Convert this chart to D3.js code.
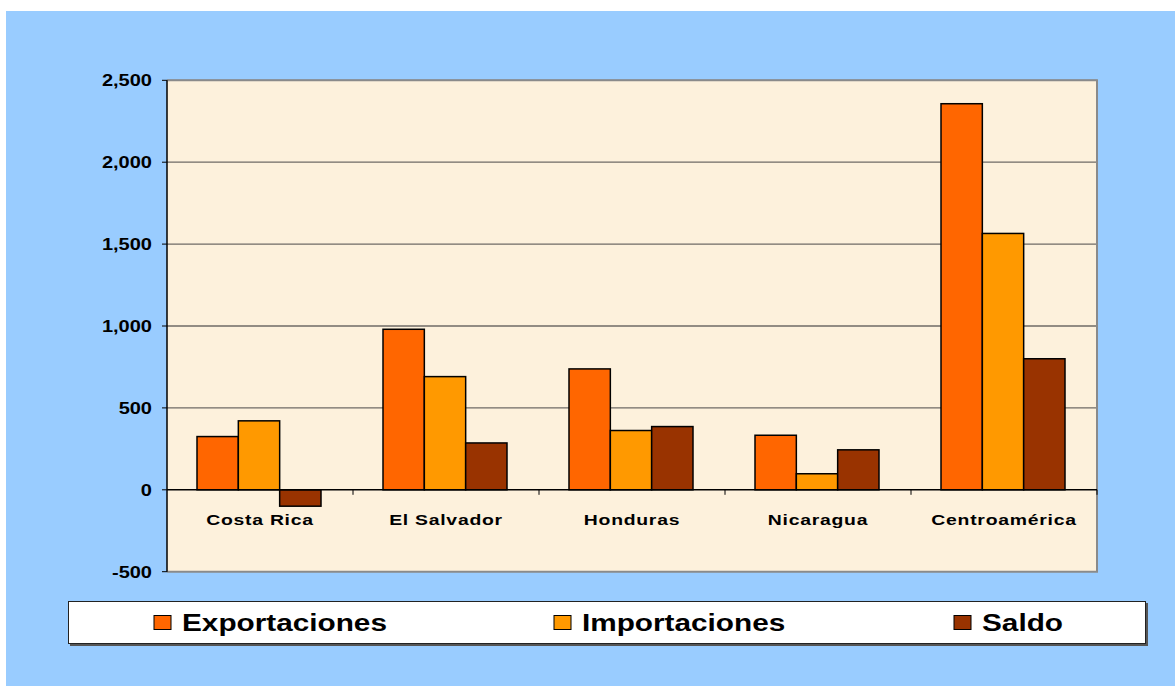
<!DOCTYPE html>
<html>
<head>
<meta charset="utf-8">
<script src="https://cdn.jsdelivr.net/npm/d3@7"></script>
<style>
body{margin:0;background:#fff}
svg{display:block}
text{font-family:"Liberation Sans",Arial,sans-serif;font-weight:bold;fill:#000}
</style>
</head>
<body>
<svg></svg>
<script>
var categories=["Costa Rica","El Salvador","Honduras","Nicaragua","Centroamérica"]
var seriesNames=["Exportaciones","Importaciones","Saldo"]
var exportaciones=[325,980,738,333,2357]
var importaciones=[421,691,362,98,1565]
var saldo=[-100,286,386,244,800]
var tickValues=[-500,0,500,1000,1500,2000,2500]
var colors=["#ff6600","#ff9900","#993300"]

var data=categories.map((c,i)=>({
  cat:c,
  vals:[exportaciones[i],importaciones[i],saldo[i]]
}))

var W=1175,H=686
var svg=d3.select("svg").attr("width",W).attr("height",H)
var stretch=1.25

// fondo azul
svg.append("rect").attr("x",6).attr("y",11).attr("width",W-6).attr("height",H-11).attr("fill","#99ccff")

var pLeft=167,pRight=1097,pTop=80.3,pBottom=571.7

var y=d3.scaleLinear().domain([-500,2500]).range([pBottom,pTop])
var x=d3.scaleBand().domain(categories).range([pLeft,pRight])
var xs=d3.scaleBand().domain(seriesNames).range([30,x.bandwidth()-32])

svg.append("rect").attr("x",pLeft).attr("y",pTop).attr("width",pRight-pLeft).attr("height",pBottom-pTop)
  .attr("fill","#fdf1dc")

// grid
svg.selectAll("line.grid").data(tickValues.filter(v=>v>0)).enter().append("line")
  .attr("x1",pLeft).attr("x2",pRight).attr("y1",d=>y(d)).attr("y2",d=>y(d))
  .attr("stroke","#6e6a66").attr("stroke-width",1.3)

// borde gris
svg.append("path")
  .attr("d",`M${pLeft},${pTop}H${pRight}V${pBottom}H${pLeft}`)
  .attr("fill","none").attr("stroke","#8a8a8a").attr("stroke-width",2)

// barras
var groups=svg.selectAll("g.cat").data(data).enter().append("g")
  .attr("transform",d=>`translate(${x(d.cat)},0)`)
groups.selectAll("rect").data(d=>d.vals.map((v,i)=>({name:seriesNames[i],v:v,i:i}))).enter().append("rect")
  .attr("x",d=>xs(d.name))
  .attr("width",xs.bandwidth())
  .attr("y",d=>y(Math.max(0,d.v)))
  .attr("height",d=>Math.abs(y(d.v)-y(0)))
  .attr("fill",d=>colors[d.i])
  .attr("stroke","#000").attr("stroke-width",1.5)

// eje y
var yAxis=svg.append("g")
yAxis.append("line").attr("x1",pLeft).attr("x2",pLeft).attr("y1",pTop).attr("y2",pBottom).attr("stroke","#000").attr("stroke-width",1.5)
yAxis.selectAll("line.t").data(tickValues).enter().append("line")
  .attr("x1",pLeft-5).attr("x2",pLeft).attr("y1",d=>y(d)).attr("y2",d=>y(d)).attr("stroke","#000")
var fmt=d3.formatLocale({decimal:".",thousands:",",grouping:[3],currency:["$",""],minus:"-"}).format(",")
yAxis.selectAll("text").data(tickValues).enter().append("text")
  .text(d=>fmt(d))
  .attr("text-anchor","end")
  .attr("font-size",16)
  .attr("transform",d=>`translate(${pLeft-15},${y(d)+6}) scale(${stretch},1)`)

// eje x en cero
var xAxis=svg.append("g")
xAxis.append("line").attr("x1",pLeft).attr("x2",pRight).attr("y1",y(0)).attr("y2",y(0)).attr("stroke","#000").attr("stroke-width",1.5)
xAxis.selectAll("line.t").data(categories.slice(1)).enter().append("line")
  .attr("x1",d=>x(d)).attr("x2",d=>x(d)).attr("y1",y(0)).attr("y2",y(0)+5).attr("stroke","#000")
xAxis.append("line").attr("x1",pRight).attr("x2",pRight).attr("y1",y(0)).attr("y2",y(0)+5).attr("stroke","#000")
xAxis.selectAll("text").data(categories).enter().append("text")
  .text(d=>d)
  .attr("text-anchor","middle")
  .attr("font-size",15.5)
  .attr("letter-spacing",0.6)
  .attr("transform",d=>`translate(${x(d)+x.bandwidth()/2},${y(0)+35}) scale(${stretch},1)`)

// leyenda
var lg=svg.append("g")
lg.append("rect").attr("x",70).attr("y",603).attr("width",1078).attr("height",43).attr("fill","#555")
lg.append("rect").attr("x",68.5).attr("y",601.5).attr("width",1077).attr("height",42)
  .attr("fill","#fff").attr("stroke","#222").attr("stroke-width",1)
var legX=d3.scalePoint().domain(seriesNames).range([154,954])
var items=lg.selectAll("g.item").data(seriesNames).enter().append("g")
  .attr("transform",d=>`translate(${legX(d)},0)`)
items.append("rect").attr("x",0).attr("y",615.5).attr("width",17).attr("height",14)
  .attr("fill",(d,i)=>colors[i]).attr("stroke","#000").attr("stroke-width",1)
items.append("text").text(d=>d)
  .attr("font-size",24)
  .attr("transform",`translate(28,631) scale(1.24,1)`)
</script>
</body>
</html>
